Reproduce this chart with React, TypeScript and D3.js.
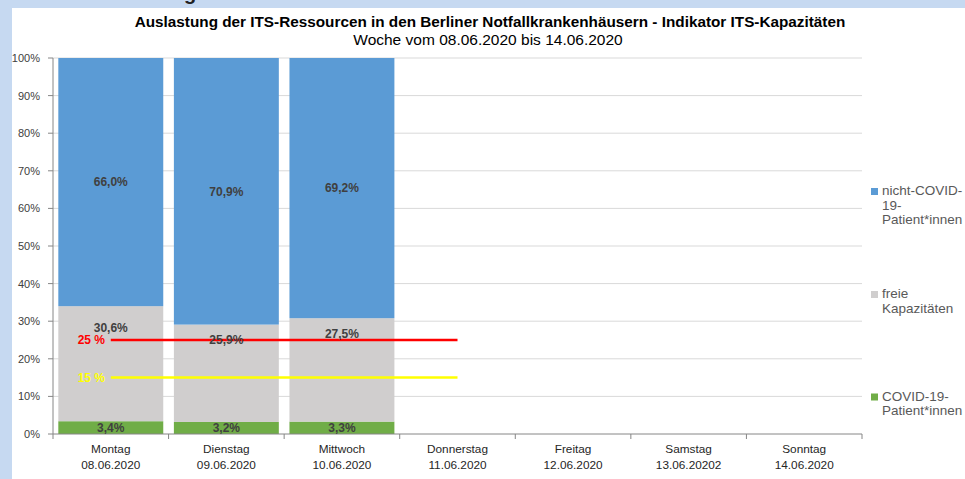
import React from "react";
import * as d3 from "d3";

const categories = ["Montag", "Dienstag", "Mittwoch", "Donnerstag", "Freitag", "Samstag", "Sonntag"];
const dates = ["08.06.2020", "09.06.2020", "10.06.2020", "11.06.2020", "12.06.2020", "13.06.20202", "14.06.2020"];
const covidValues = [3.4, 3.2, 3.3];
const freeValues = [30.6, 25.9, 27.5];
const nonCovidValues = [66.0, 70.9, 69.2];
const freeLabelPositions = [28.2, 25.0, 26.6];
const yTicks = [0, 10, 20, 30, 40, 50, 60, 70, 80, 90, 100];
const thresholdValues = [25, 15];
const thresholdLabels = ["25 %", "15 %"];
const thresholdColors = ["#ff0000", "#ffff00"];
const thresholdFrom = "Montag";
const thresholdTo = "Donnerstag";
const legendNames = [["nicht-COVID-", "19-", "Patient*innen"], ["freie", "Kapazitäten"], ["COVID-19-", "Patient*innen"]];
const legendColors = ["#5b9bd5", "#d0cece", "#70ad47"];

const fmt = (v: number) => v.toFixed(1).replace(".", ",") + "%";

export default function App() {
  const W = 965, H = 479;
  const left = 53, right = 862, top = 58, bottom = 434;
  const x = d3.scaleBand<string>().domain(categories).range([left, right]).paddingInner(0.092).paddingOuter(0.046);
  const y = d3.scaleLinear().domain([0, 100]).range([bottom, top]);
  const step = x.step();
  const bw = x.bandwidth();
  const font = "'Liberation Sans', Arial, sans-serif";
  const center = (c: string) => (x(c) as number) + bw / 2;

  const stacks = covidValues.map((cv, i) => {
    const a = cv, b = cv + freeValues[i], c = b + nonCovidValues[i];
    return [
      { y0: 0, y1: a, color: legendColors[2], v: cv, ly: a / 2 },
      { y0: a, y1: b, color: legendColors[1], v: freeValues[i], ly: freeLabelPositions[i] },
      { y0: b, y1: c, color: legendColors[0], v: nonCovidValues[i], ly: (b + c) / 2 },
    ];
  });

  const boundaries = d3.range(categories.length + 1).map((k) => left + k * step);
  const legendBaselines = [195, 298, 400.5];

  return (
    <svg width={W} height={H} style={{ position: "absolute", left: 0, top: 0 }} fontFamily={font}>
      <rect x={0} y={0} width={W} height={H} fill="#c6d9f1" />
      <rect x={12} y={8} width={W - 12} height={H - 8} fill="#ffffff" />
      <text x={184} y={0} fontSize={20} fontWeight="bold" fill="#222">g</text>

      <text x={490} y={27} textAnchor="middle" fontSize={15.3} fontWeight="bold" fill="#000">
        Auslastung der ITS-Ressourcen in den Berliner Notfallkrankenhäusern - Indikator ITS-Kapazitäten
      </text>
      <text x={488} y={45} textAnchor="middle" fontSize={15.5} fill="#000">
        Woche vom 08.06.2020 bis 14.06.2020
      </text>

      {yTicks.map((t) => (
        <g key={t}>
          {t > 0 && <line x1={left} x2={right} y1={y(t)} y2={y(t)} stroke="#d9d9d9" strokeWidth={1} />}
          <line x1={left - 5} x2={left} y1={y(t)} y2={y(t)} stroke="#868686" strokeWidth={1} />
          <text x={40} y={y(t) + 4} textAnchor="end" fontSize={11} fill="#404040">{t}%</text>
        </g>
      ))}

      {stacks.map((segs, i) =>
        segs.map((s, j) => (
          <rect key={`${i}-${j}`} x={x(categories[i])} y={y(s.y1)} width={bw} height={y(s.y0) - y(s.y1)} fill={s.color} />
        ))
      )}

      <line x1={left} x2={left} y1={top} y2={bottom} stroke="#868686" strokeWidth={1} />
      <line x1={left} x2={right} y1={bottom} y2={bottom} stroke="#868686" strokeWidth={1} />
      {boundaries.map((bx, k) => (
        <line key={k} x1={bx} x2={bx} y1={bottom} y2={bottom + 5} stroke="#868686" strokeWidth={1} />
      ))}

      {thresholdValues.map((tv, k) => (
        <g key={tv}>
          <line x1={center(thresholdFrom)} x2={center(thresholdTo)} y1={y(tv)} y2={y(tv)} stroke={thresholdColors[k]} strokeWidth={2.5} />
        </g>
      ))}

      {stacks.map((segs, i) =>
        segs.map((s, j) => (
          <text key={`l${i}-${j}`} x={center(categories[i])} y={y(s.ly)} dy="0.36em" textAnchor="middle" fontSize={12} fontWeight="bold" fill="#404040">
            {fmt(s.v)}
          </text>
        ))
      )}

      {thresholdValues.map((tv, k) => (
        <text key={`t${tv}`} x={105} y={y(tv)} dy="0.36em" textAnchor="end" fontSize={12} fontWeight="bold" fill={thresholdColors[k]}>
          {thresholdLabels[k]}
        </text>
      ))}

      {categories.map((c, i) => (
        <g key={c}>
          <text x={center(c)} y={453} textAnchor="middle" fontSize={11.8} fill="#262626">{c}</text>
          <text x={center(c)} y={469} textAnchor="middle" fontSize={11.8} fill="#262626">{dates[i]}</text>
        </g>
      ))}

      {legendNames.map((lines, k) => (
        <g key={k}>
          <rect x={871} y={legendBaselines[k] - 7} width={7} height={7} fill={legendColors[k]} />
          {lines.map((ln, m) => (
            <text key={m} x={882} y={legendBaselines[k] + m * 14.6} fontSize={13.5} fill="#595959">{ln}</text>
          ))}
        </g>
      ))}
    </svg>
  );
}
